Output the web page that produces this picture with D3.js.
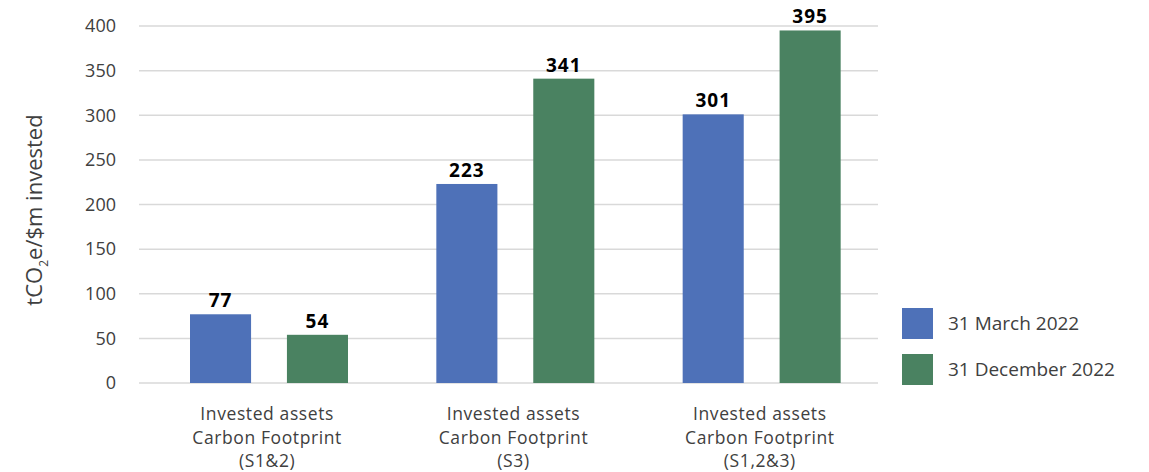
<!DOCTYPE html>
<html>
<head>
<meta charset="utf-8">
<script src="https://cdn.jsdelivr.net/npm/d3@7"></script>
<style>
  body { margin: 0; background: #fff; }
  text { font-family: "Open Sans", sans-serif; }
</style>
</head>
<body>
<svg></svg>
<script>
var width = 1149,
    height = 472;

// data
var categories = [
  ["Invested assets", "Carbon Footprint", "(S1&2)"],
  ["Invested assets", "Carbon Footprint", "(S3)"],
  ["Invested assets", "Carbon Footprint", "(S1,2&3)"]
];
var seriesNames = ["31 March 2022", "31 December 2022"];
var march2022 = [77, 223, 301];
var december2022 = [54, 341, 395];
var yTicks = [0, 50, 100, 150, 200, 250, 300, 350, 400];

var colors = ["#4e71b8", "#4a8261"];
var series = [march2022, december2022];

var svg = d3.select("svg")
  .attr("width", width)
  .attr("height", height);

var x = d3.scaleBand().domain(d3.range(categories.length)).range([139, 878]);
var xInner = d3.scaleBand().domain(d3.range(series.length))
  .range([51, 209]).paddingInner(0.37).paddingOuter(0);
var y = d3.scaleLinear().domain([0, 400]).range([383, 26]);

// gridlines
svg.append("g")
  .selectAll("line")
  .data(yTicks)
  .enter()
  .append("line")
  .attr("x1", 139)
  .attr("x2", 878)
  .attr("y1", function(d) { return y(d); })
  .attr("y2", function(d) { return y(d); })
  .attr("stroke", "#d9d9d9")
  .attr("stroke-width", 1.5);

// y axis ticks (no domain line)
var yAxis = svg.append("g")
  .attr("transform", "translate(139,0)")
  .call(d3.axisLeft(y).tickValues(yTicks).tickSize(0).tickPadding(23));
yAxis.select(".domain").remove();
yAxis.selectAll("text")
  .attr("font-family", "'Open Sans', sans-serif")
  .attr("font-size", 18)
  .attr("fill", "#404040");

// y axis title
var title = svg.append("text")
  .attr("transform", "translate(42,210) rotate(-90)")
  .attr("text-anchor", "middle")
  .attr("font-size", 22)
  .attr("fill", "#404040");
title.append("tspan").text("tCO");
title.append("tspan").attr("font-size", 12).attr("dy", 6).text("2");
title.append("tspan").attr("dy", -6).text("e/$m invested");

// bars
var groups = svg.append("g")
  .selectAll("g")
  .data(categories)
  .enter()
  .append("g")
  .attr("transform", function(d, i) { return "translate(" + x(i) + ",0)"; });

series.forEach(function(s, si) {
  groups.append("rect")
    .attr("x", xInner(si))
    .attr("width", xInner.bandwidth())
    .attr("y", function(d, i) { return y(s[i]); })
    .attr("height", function(d, i) { return y(0) - y(s[i]); })
    .attr("fill", colors[si]);

  groups.append("text")
    .attr("x", xInner(si) + xInner.bandwidth() / 2)
    .attr("y", function(d, i) { return y(s[i]) - 7; })
    .attr("text-anchor", "middle")
    .attr("font-size", 19)
    .attr("font-weight", "bold")
    .attr("letter-spacing", 1)
    .attr("fill", "#000")
    .text(function(d, i) { return s[i]; });
});

// category labels
groups.each(function(lines) {
  var t = d3.select(this).append("text")
    .attr("text-anchor", "middle")
    .attr("font-size", 17.5)
    .attr("letter-spacing", 0.6)
    .attr("fill", "#404040");
  lines.forEach(function(l, li) {
    t.append("tspan")
      .attr("x", x.bandwidth() / 2 + 5)
      .attr("y", 420 + li * 23.5)
      .text(l);
  });
});

// legend
var legend = svg.append("g")
  .selectAll("g")
  .data(seriesNames)
  .enter()
  .append("g")
  .attr("transform", function(d, i) { return "translate(902," + (308 + i * 46) + ")"; });

legend.append("rect")
  .attr("width", 31)
  .attr("height", 31)
  .attr("fill", function(d, i) { return colors[i]; });

legend.append("text")
  .attr("x", 46)
  .attr("y", 22)
  .attr("font-size", 19)
  .attr("fill", "#404040")
  .text(function(d) { return d; });
</script>
</body>
</html>
